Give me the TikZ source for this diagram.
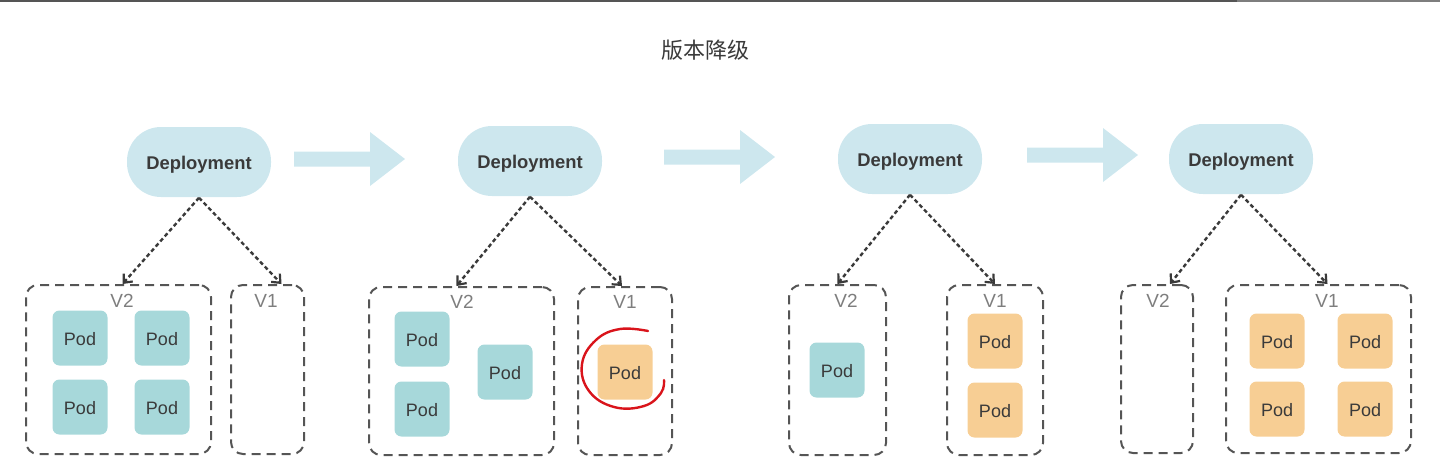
\documentclass[tikz,border=0pt]{standalone}
\usepackage{fontspec}
\setmainfont{Liberation Sans}
\newfontfamily\cjk{Noto Sans CJK SC}
\usetikzlibrary{arrows.meta}

\definecolor{deplblue}{HTML}{CDE7EE}
\definecolor{podteal}{HTML}{A7D8DA}
\definecolor{podorange}{HTML}{F7CE94}
\definecolor{txtdark}{HTML}{3A3A3A}
\definecolor{txtgray}{HTML}{7E7E7E}
\definecolor{dashgray}{HTML}{555555}
\definecolor{markred}{HTML}{D9141B}

\tikzset{every picture/.style={line width=0.75pt}}
\tikzset{
  deploy/.style={fill=deplblue, rounded corners=17pt, minimum width=72pt, minimum height=35pt,
    inner sep=0pt, text=txtdark, text height=1.6ex, text depth=0.2ex,
    font=\fontsize{9.2}{11}\selectfont\bfseries},
  podvtwo/.style={fill=podteal, rounded corners=3.5pt, minimum size=27.5pt, inner sep=0pt,
    text=txtdark, text height=1.6ex, text depth=0.2ex, font=\fontsize{9}{10}\selectfont},
  podvone/.style={podvtwo, fill=podorange},
  verbox/.style={draw=dashgray, line width=1pt, dash pattern=on 4.5pt off 3pt,
    rounded corners=6pt, inner sep=0pt},
  verlabel/.style={text=txtgray, font=\fontsize{9.5}{11}\selectfont, inner sep=0pt},
  link/.style={draw=txtdark, line width=1.2pt, dash pattern=on 2pt off 1.4pt,
    -{Straight Barb[length=3.5pt,width=6pt,line width=1.1pt]}},
  bigarrow/.style={fill=deplblue}
}

\begin{document}
\begin{tikzpicture}[x=0.5pt,y=0.5pt,yscale=-1,xscale=1]
\useasboundingbox (0,0) rectangle (1440,471);

% top edge
\draw [line width=1.2pt, color=dashgray] (0,1) -- (1237,1);
\draw [line width=1.2pt, color=txtgray] (1237,1) -- (1440,1);

% Title
\node [font=\cjk\fontsize{11}{13}\selectfont, text=txtdark] (title) at (705,50) {版本降级};

% Deployments
\node [deploy] (dep1) at (199,162) {Deployment};
\node [deploy] (dep2) at (530,161) {Deployment};
\node [deploy] (dep3) at (910,159) {Deployment};
\node [deploy] (dep4) at (1241,159) {Deployment};

% Step arrows
\foreach \sx/\sy in {294/159, 664/157, 1027/155}
  \fill [bigarrow] (\sx,\sy-7.5) -- (\sx+76,\sy-7.5) -- (\sx+76,\sy-27) -- (\sx+111,\sy)
    -- (\sx+76,\sy+27) -- (\sx+76,\sy+7.5) -- (\sx,\sy+7.5) -- cycle;

% Version boxes
\node [verbox, minimum width=92.5pt, minimum height=84.5pt] (g1v2) at (118.5,369.5) {};
\node [verbox, minimum width=36.5pt, minimum height=84.5pt] (g1v1) at (267.5,369.5) {};
\node [verbox, minimum width=92.5pt, minimum height=84pt] (g2v2) at (461.5,371) {};
\node [verbox, minimum width=47pt, minimum height=84pt] (g2v1) at (625,371) {};
\node [verbox, minimum width=48.5pt, minimum height=85pt] (g3v2) at (837.5,370) {};
\node [verbox, minimum width=48pt, minimum height=85pt] (g3v1) at (995,370) {};
\node [verbox, minimum width=36pt, minimum height=84pt] (g4v2) at (1157,369) {};
\node [verbox, minimum width=92.5pt, minimum height=84pt] (g4v1) at (1318.5,369) {};

% Version labels
\node [verlabel] (g1v2l) at (122,301) {V2};
\node [verlabel] (g1v1l) at (266,301) {V1};
\node [verlabel] (g2v2l) at (462,302) {V2};
\node [verlabel] (g2v1l) at (625,302) {V1};
\node [verlabel] (g3v2l) at (846,301) {V2};
\node [verlabel] (g3v1l) at (995,301) {V1};
\node [verlabel] (g4v2l) at (1158,301) {V2};
\node [verlabel] (g4v1l) at (1327,301) {V1};

% Links
\draw [link] (dep1.south) -- ([xshift=2pt]g1v2.north);
\draw [link] (dep1.south) -- ([xshift=7pt]g1v1.north);
\draw [link] (dep2.south) -- ([xshift=-2.5pt]g2v2.north);
\draw [link] (dep2.south) -- ([xshift=-1.5pt]g2v1.north);
\draw [link] (dep3.south) -- (g3v2.north);
\draw [link] (dep3.south) -- (g3v1.north);
\draw [link] (dep4.south) -- ([xshift=6.5pt]g4v2.north);
\draw [link] (dep4.south) -- ([xshift=4.5pt]g4v1.north);

% Pods
\node [podvtwo] (p1a) at (80,338) {Pod};
\node [podvtwo] (p1b) at (162,338) {Pod};
\node [podvtwo] (p1c) at (80,407) {Pod};
\node [podvtwo] (p1d) at (162,407) {Pod};

\node [podvtwo] (p2a) at (422,339) {Pod};
\node [podvtwo] (p2b) at (422,409) {Pod};
\node [podvtwo] (p2c) at (505,372) {Pod};
\node [podvone] (p2d) at (625,372) {Pod};

\node [podvtwo] (p3a) at (837,370) {Pod};
\node [podvone] (p3b) at (995,341) {Pod};
\node [podvone] (p3c) at (995,410) {Pod};

\node [podvone] (p4a) at (1277,341) {Pod};
\node [podvone] (p4b) at (1365,341) {Pod};
\node [podvone] (p4c) at (1277,409) {Pod};
\node [podvone] (p4d) at (1365,409) {Pod};

% Red mark
\draw [markred, line width=1.2pt, line cap=round] plot [smooth, tension=0.7] coordinates
  {(648,331) (620,329) (596,340) (582,364) (589,391) (614,407) (644,406) (661,393) (664,380)};

\end{tikzpicture}
\end{document}
